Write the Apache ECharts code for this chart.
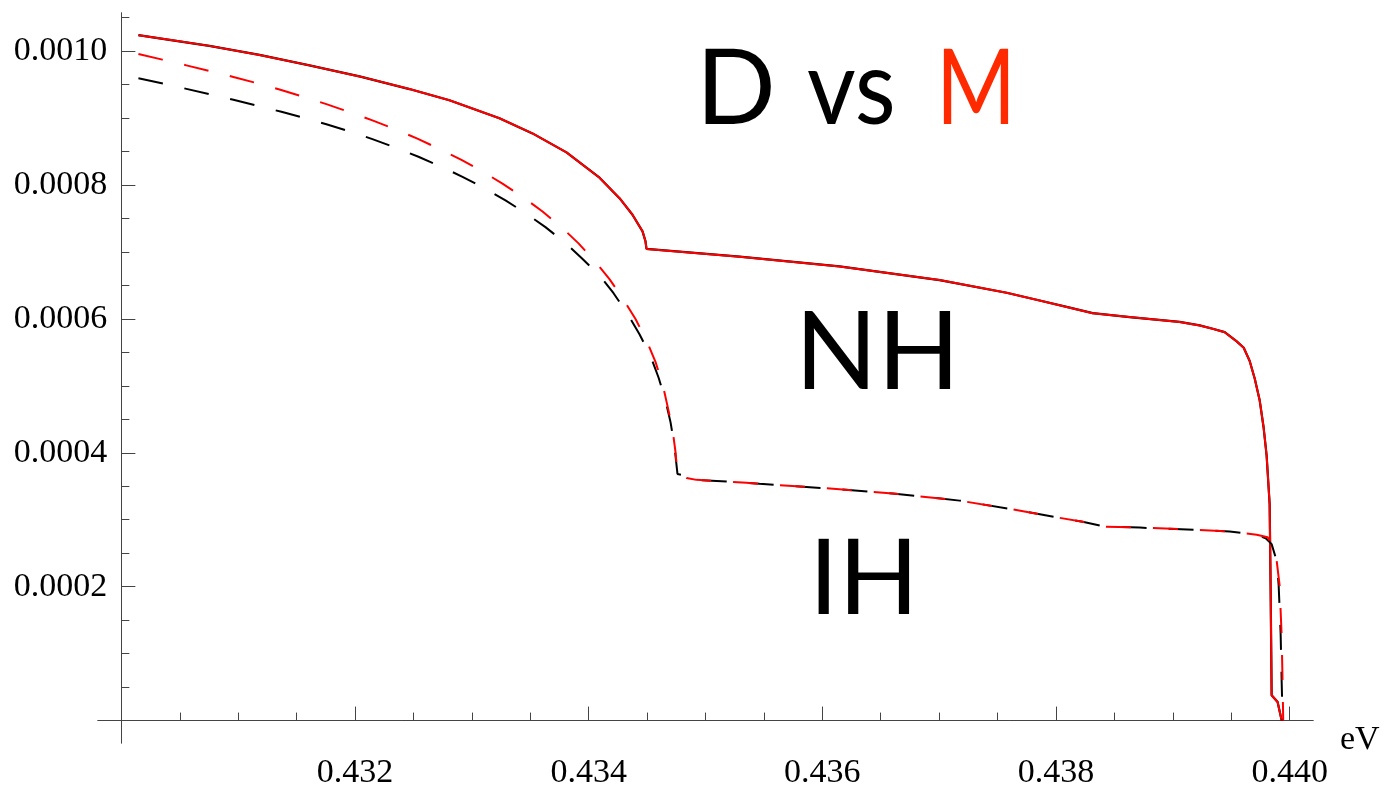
<!DOCTYPE html>
<html>
<head>
<meta charset="utf-8">
<script src="https://cdn.jsdelivr.net/npm/echarts@6/dist/echarts.min.js"></script>
<style>
html,body{margin:0;padding:0;background:#fff;}
#c{width:1386px;height:790px;}
</style>
</head>
<body>
<div id="c"></div>
<script>
// ---- data ----
const nhX = [0.430146,0.430411,0.430753,0.431182,0.431610,0.432038,0.432466,0.432808,0.433236,0.433519,
             0.433810,0.434093,0.434264,0.434375,0.434461,0.434486,0.434495,0.435291,0.436147,0.437004,
             0.437577,0.437860,0.438091,0.438314,0.438630,0.439058,0.439230,0.439341,0.439444,0.439547,
             0.439607,0.439658,0.439701,0.439743,0.439777,0.439803,0.439829,0.439837,0.439846,0.439897,
             0.439932];
const nhD = [0.0010237,0.0010167,0.0010077,0.0009942,0.0009786,0.0009621,0.0009432,0.0009265,0.0008996,0.0008770,
             0.0008486,0.0008108,0.0007802,0.0007555,0.0007307,0.0007160,0.0007045,0.0006929,0.0006783,0.0006579,
             0.0006390,0.0006274,0.0006178,0.0006085,0.0006026,0.0005954,0.0005902,0.0005852,0.0005801,0.0005663,
             0.0005568,0.0005371,0.0005109,0.0004789,0.0004381,0.0003959,0.0003231,0.0002023,0.0000378,0.0000277,
             0];
const nhM = [0.0010237,0.0010167,0.0010077,0.0009942,0.0009786,0.0009621,0.0009432,0.0009265,0.0008996,0.0008770,
             0.0008486,0.0008108,0.0007802,0.0007555,0.0007307,0.0007160,0.0007045,0.0006929,0.0006783,0.0006579,
             0.0006390,0.0006274,0.0006178,0.0006085,0.0006026,0.0005954,0.0005902,0.0005852,0.0005801,0.0005663,
             0.0005568,0.0005371,0.0005109,0.0004789,0.0004381,0.0003959,0.0003231,0.0002023,0.0000378,0.0000277,
             0];

const ihDX = [0.430146,0.430368,0.430557,0.430771,0.430959,0.431173,0.431370,0.431575,0.431755,0.431978,
              0.432149,0.432355,0.432543,0.432748,0.432920,0.433117,0.433288,0.433468,0.433630,0.433802,
              0.433939,0.434093,0.434213,0.434332,0.434435,0.434529,0.434598,0.434658,0.434701,0.434735,
              0.434760,0.434803,0.434838,0.434923,0.435351,0.435462,0.436036,0.436601,0.437175,0.437603,
              0.438031,0.438228,0.438416,0.438716,0.439204,0.439487,0.439718,0.439795,0.439846,0.439889,
              0.439906,0.439923,0.439932,0.439940];
const ihD  = [0.0009592,0.0009509,0.0009435,0.0009348,0.0009271,0.0009179,0.0009092,0.0008996,0.0008907,0.0008786,
              0.0008684,0.0008552,0.0008421,0.0008264,0.0008121,0.0007943,0.0007769,0.0007569,0.0007370,0.0007131,
              0.0006910,0.0006648,0.0006383,0.0006077,0.0005771,0.0005444,0.0005124,0.0004779,0.0004454,0.0004090,
              0.0003683,0.0003668,0.0003624,0.0003595,0.0003552,0.0003537,0.0003469,0.0003392,0.0003285,0.0003163,
              0.0003028,0.0002969,0.0002897,0.0002882,0.0002849,0.0002824,0.0002776,0.0002722,0.0002635,0.0002387,
              0.0002023,0.0001296,0.0000568,0];

const ihMX = [0.430146,0.430351,0.430557,0.430771,0.430959,0.431164,0.431361,0.431567,0.431755,0.431969,
              0.432149,0.432355,0.432534,0.432731,0.432911,0.433091,0.433262,0.433442,0.433605,0.433776,
              0.433913,0.434058,0.434178,0.434290,0.434401,0.434495,0.434572,0.434632,0.434675,0.434718,
              0.434743,0.434760,0.434803,0.434838,0.434923,0.435351,0.435462,0.436036,0.436601,0.437175,
              0.437603,0.438031,0.438228,0.438416,0.438716,0.439204,0.439487,0.439718,0.439812,0.439854,
              0.439889,0.439914,0.439932,0.439940,0.439945];
const ihM  = [0.0009956,0.0009872,0.0009786,0.0009696,0.0009613,0.0009518,0.0009421,0.0009313,0.0009207,0.0009079,
              0.0008965,0.0008825,0.0008691,0.0008531,0.0008373,0.0008201,0.0008020,0.0007812,0.0007603,0.0007355,
              0.0007127,0.0006854,0.0006594,0.0006310,0.0005997,0.0005677,0.0005357,0.0005031,0.0004696,0.0004346,
              0.0004015,0.0003683,0.0003668,0.0003624,0.0003595,0.0003552,0.0003537,0.0003469,0.0003392,0.0003285,
              0.0003163,0.0003028,0.0002969,0.0002897,0.0002882,0.0002849,0.0002824,0.0002776,0.0002737,0.0002606,
              0.0002387,0.0002023,0.0001252,0.0000524,0];

const xMajor = [0.432,0.434,0.436,0.438,0.440];
const xMinor = [0.4305,0.431,0.4315,0.4325,0.433,0.4335,0.4345,0.435,0.4355,0.4365,0.437,0.4375,0.4385,0.439,0.4395];
const yMajor = [0,0.0002,0.0004,0.0006,0.0008,0.0010];
const yLabels = [0.0002,0.0004,0.0006,0.0008,0.0010];
const yMinor = [0.00005,0.0001,0.00015,0.00025,0.0003,0.00035,0.00045,0.0005,0.00055,0.00065,0.0007,0.00075,0.00085,0.0009,0.00095,0.00105];
const xName = 'eV';
const titleParts = ['D', 'vs', 'M'];
const curveLabels = ['NH', 'IH'];

// ---- chart ----
const zip = (xs, ys) => xs.map((x, i) => [x, ys[i]]);
const X_MIN = 0.4298, X_MAX = 0.4402, Y_MIN = -0.0000335, Y_MAX = 0.0010568;
const GL = 98, GR = 73, GT = 13, GB = 28;
const axisCol = '#444';
const serif = '"Liberation Serif","Times New Roman",serif';
const yOffset = -((1386 - GL - GR) * (0.430 - X_MIN) / (X_MAX - X_MIN));

const chart = echarts.init(document.getElementById('c'), null, {renderer: 'canvas'});
const baseX = {
  type: 'value', min: X_MIN, max: X_MAX, position: 'bottom',
  splitLine: {show: false},
  axisLine: {onZero: true, lineStyle: {color: axisCol, width: 1}}
};
const baseY = {
  type: 'value', min: Y_MIN, max: Y_MAX, position: 'left', offset: yOffset,
  splitLine: {show: false},
  axisLine: {show: true, lineStyle: {color: axisCol, width: 1}}
};
chart.setOption({
  animation: false,
  backgroundColor: '#fff',
  grid: {left: GL, right: GR, top: GT, bottom: GB, containLabel: false},
  xAxis: [
    Object.assign({}, baseX, {
      axisTick: {inside: true, length: 14, customValues: xMajor, lineStyle: {color: axisCol}},
      axisLabel: {customValues: xMajor, formatter: v => v.toFixed(3), fontFamily: serif, fontSize: 34, color: '#000', margin: 13}
    }),
    Object.assign({}, baseX, {
      axisTick: {inside: true, length: 8, customValues: xMinor, lineStyle: {color: axisCol}},
      axisLabel: {show: false}
    })
  ],
  yAxis: [
    Object.assign({}, baseY, {
      axisTick: {inside: true, length: 14, customValues: yMajor, lineStyle: {color: axisCol}},
      axisLabel: {customValues: yLabels, formatter: v => v.toFixed(4), fontFamily: serif, fontSize: 34, color: '#000', margin: 14}
    }),
    Object.assign({}, baseY, {
      axisTick: {inside: true, length: 8, customValues: yMinor, lineStyle: {color: axisCol}},
      axisLabel: {show: false}
    })
  ],
  series: [
    {name: 'NH D', type: 'line', xAxisIndex: 0, yAxisIndex: 0, data: zip(nhX, nhD), showSymbol: false, smooth: false,
     lineStyle: {color: '#000', width: 2.2}},
    {name: 'NH M', type: 'line', xAxisIndex: 0, yAxisIndex: 0, data: zip(nhX, nhM), showSymbol: false, smooth: false,
     lineStyle: {color: '#ff0000', width: 2}},
    {name: 'IH D', type: 'line', xAxisIndex: 0, yAxisIndex: 0, data: zip(ihDX, ihD), showSymbol: false, smooth: false,
     lineStyle: {color: '#000', width: 2, type: [25, 22]}},
    {name: 'IH M', type: 'line', xAxisIndex: 0, yAxisIndex: 0, data: zip(ihMX, ihM), showSymbol: false, smooth: false,
     lineStyle: {color: '#ff0000', width: 2, type: [25, 22]}}
  ],
  graphic: [
    {type: 'text', x: 1340, y: 740, style: {text: xName, font: '34px "Liberation Serif"', fill: '#000', textVerticalAlign: 'middle'}},
    {type: 'text', x: 696, y: 90, style: {text: titleParts[0], font: '105px Lato', fill: '#000', textVerticalAlign: 'middle'}},
    {type: 'text', x: 807, y: 90, scaleX: 0.9, style: {text: titleParts[1], font: '105px Lato', fill: '#000', textVerticalAlign: 'middle'}},
    {type: 'text', x: 936, y: 90, scaleX: 0.82, style: {text: titleParts[2], font: '105px Lato', fill: '#ff2a00', textVerticalAlign: 'middle'}},
    {type: 'text', x: 795, y: 354, style: {text: curveLabels[0], font: '108px Lato', fill: '#000', textVerticalAlign: 'middle'}},
    {type: 'text', x: 809, y: 580, style: {text: curveLabels[1], font: '105px Lato', fill: '#000', textVerticalAlign: 'middle'}}
  ]
});
</script>
</body>
</html>
